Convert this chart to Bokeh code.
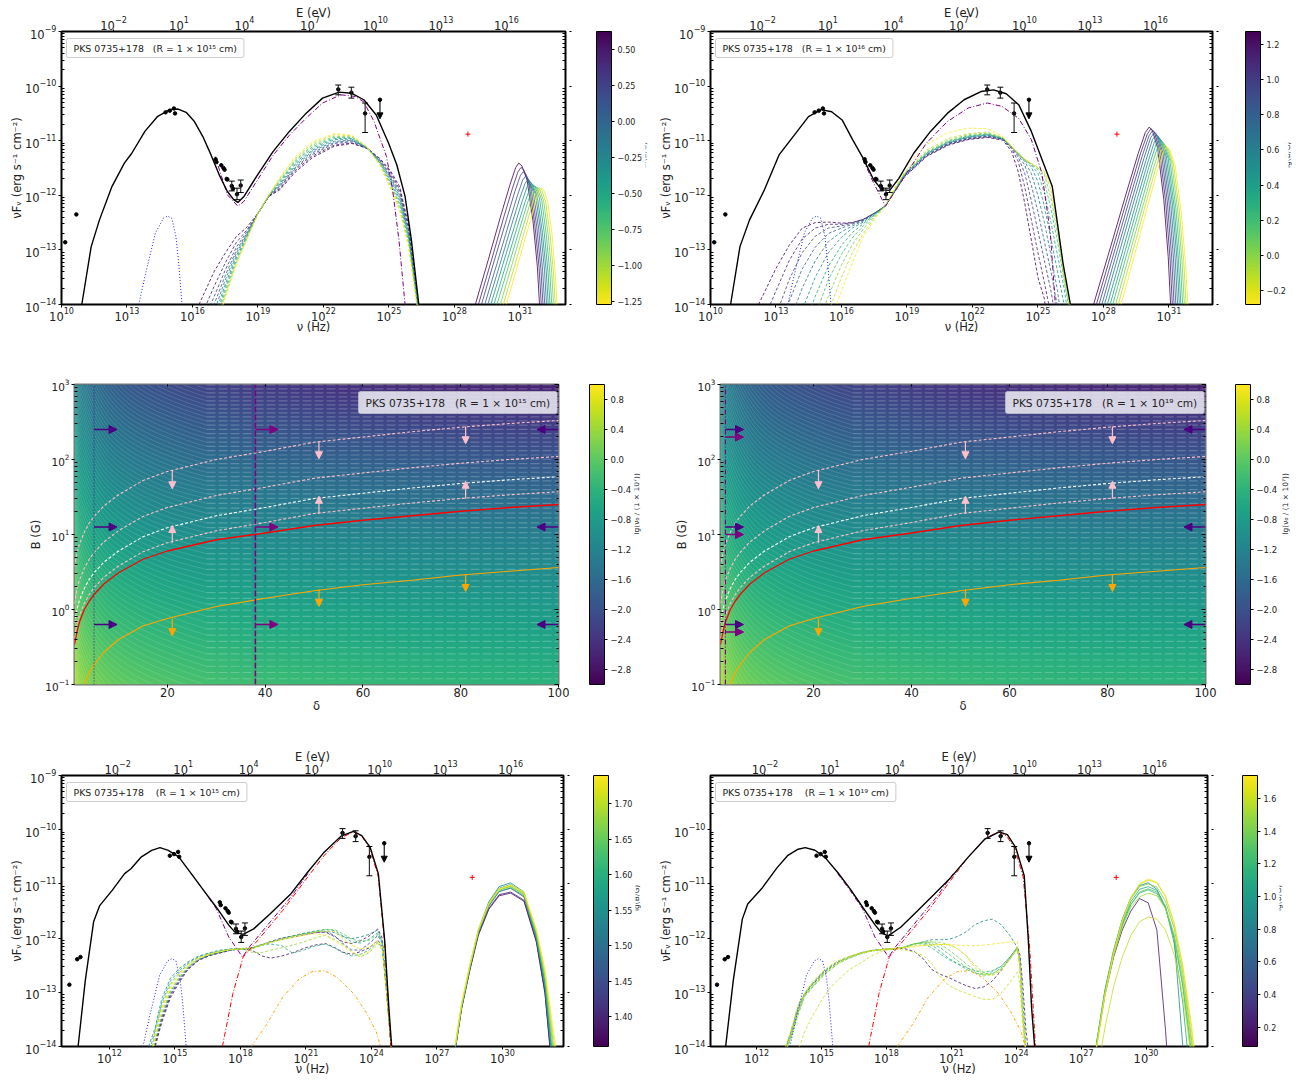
import numpy as np
from math import pi
from bokeh.embed import file_html
from bokeh.resources import INLINE
from bokeh.plotting import figure
from bokeh.layouts import row, column
from bokeh.palettes import Viridis256
from bokeh.models import (ColorBar, LinearColorMapper, FixedTicker, LogAxis, LinearAxis, Label, Arrow,
                          NormalHead, Range1d, LogScale)

# ---------- shared observations (log10 nu, log10 nuFnu) ----------
OBS_NU = [10.17,10.68,14.77,14.96,15.15,15.2,17.06,17.1,17.32,17.42,17.47,17.57,17.6,17.8,17.85,18.04,18.21,22.68,23.28,23.91,24.59]
OBS_F = [-12.86,-12.35,-10.48,-10.45,-10.41,-10.5,-11.34,-11.39,-11.45,-11.5,-11.53,-11.7,-11.71,-11.83,-11.88,-11.98,-11.82,-10.06,-10.12,-10.5,-10.25]
EXTRA_NU = [10.53]
EXTRA_F = [-12.39]
ERR_NU = [17.8,18.04,18.21,22.68,23.28,23.91]
ERR_LO = [-11.92,-12.08,-11.95,-10.16,-10.22,-10.85]
ERR_HI = [-11.74,-11.87,-11.72,-9.98,-10.02,-10.31]
LIMIT_NU = 24.59
LIMIT_FROM = -10.25
LIMIT_TO = -10.6
RED_NU = [28.62]
RED_F = [-10.88]
BLUE_NU = [13.54,13.82,14.3,14.67,14.86,15.05,15.24,15.37,15.52]
BLUE_F = [-14,-13.49,-12.69,-12.42,-12.38,-12.42,-12.75,-13.24,-14]

E_TICKS = [1e-2,1e1,1e4,1e7,1e10,1e13,1e16]
LOG_H = -14.383

# ---------- top-left panel ----------
TL_BLACK_X = [10.93,11.36,11.74,12.31,12.88,13.22,13.82,14.39,14.96,15.34,15.71,16.09,16.47,16.85,17.23,17.6,17.89,18.08,18.36,18.93,19.69,20.44,21.2,21.96,22.72,23.28,23.85,24.42,24.99,25.36,25.74,26.03,26.37]
TL_BLACK_Y = [-14,-12.94,-12.45,-11.84,-11.41,-11.23,-10.83,-10.56,-10.43,-10.42,-10.48,-10.65,-10.92,-11.26,-11.63,-11.93,-12.08,-12.13,-12.02,-11.66,-11.2,-10.83,-10.5,-10.22,-10.11,-10.13,-10.25,-10.53,-11.05,-11.44,-12.02,-12.82,-14]
TL_PURPLE_X = [17.04,17.6,18.08,18.36,18.93,19.69,20.44,21.2,21.96,22.8,23.47,23.85,24.32,24.89,25.17,25.46,25.74]
TL_PURPLE_Y = [-11.29,-11.99,-12.2,-12.11,-11.75,-11.27,-10.9,-10.59,-10.31,-10.16,-10.19,-10.29,-10.65,-11.29,-11.9,-12.82,-14]
TL_SSC_X = [16.3,17.0,17.5,18.0,18.5,19.0,19.5,20,20.7,21.5,22.5,23.3,24,24.6,25.1,25.5,25.9,26.35]
TL_SSC_Y = [
[-14.0,-13.39,-13.06,-12.76,-12.58,-12.33,-12.02,-11.90,-11.58,-11.31,-11.10,-11.05,-11.14,-11.33,-11.57,-11.85,-12.55,-14.0],
[-14.31,-13.66,-13.24,-12.87,-12.63,-12.33,-12.02,-11.88,-11.55,-11.28,-11.08,-11.04,-11.14,-11.34,-11.6,-11.9,-12.59,-14.02],
[-14.53,-13.85,-13.37,-12.96,-12.66,-12.33,-12.02,-11.85,-11.52,-11.25,-11.05,-11.02,-11.14,-11.36,-11.64,-11.94,-12.63,-14.04],
[-14.7,-13.99,-13.47,-13.02,-12.69,-12.33,-12.01,-11.83,-11.5,-11.22,-11.03,-11.0,-11.13,-11.37,-11.67,-11.99,-12.67,-14.06],
[-14.84,-14.12,-13.55,-13.07,-12.71,-12.33,-12.01,-11.81,-11.47,-11.19,-11.01,-10.99,-11.13,-11.38,-11.7,-12.03,-12.71,-14.08],
[-14.97,-14.22,-13.63,-13.12,-12.73,-12.33,-12.01,-11.79,-11.44,-11.17,-10.98,-10.97,-11.13,-11.4,-11.73,-12.08,-12.75,-14.1],
[-15.08,-14.32,-13.69,-13.16,-12.75,-12.33,-12.01,-11.76,-11.41,-11.14,-10.96,-10.96,-11.13,-11.41,-11.77,-12.12,-12.79,-14.12],
[-15.18,-14.41,-13.75,-13.2,-12.76,-12.33,-12.01,-11.74,-11.38,-11.11,-10.94,-10.94,-11.13,-11.42,-11.8,-12.17,-12.83,-14.14],
[-15.26,-14.48,-13.8,-13.23,-12.78,-12.33,-12.0,-11.72,-11.36,-11.08,-10.92,-10.93,-11.12,-11.43,-11.83,-12.21,-12.87,-14.16],
[-15.33,-14.54,-13.84,-13.25,-12.79,-12.33,-12.0,-11.69,-11.33,-11.05,-10.89,-10.91,-11.12,-11.45,-11.87,-12.26,-12.91,-14.18],
[-15.4,-14.6,-13.88,-13.28,-12.8,-12.33,-12.0,-11.67,-11.3,-11.02,-10.87,-10.9,-11.12,-11.46,-11.9,-12.3,-12.95,-14.2],
]
TL_HUMP_X = [
[28.96,29.56,30.15,30.55,30.81,30.95,31.09,31.33,31.6,31.8,31.9],
[29.1,29.69,30.27,30.66,30.91,31.05,31.19,31.42,31.68,31.88,31.98],
[29.24,29.81,30.39,30.77,31.02,31.15,31.29,31.51,31.77,31.96,32.06],
[29.39,29.95,30.51,30.89,31.13,31.26,31.39,31.61,31.86,32.04,32.14],
[29.53,30.08,30.63,31.0,31.24,31.37,31.5,31.71,31.95,32.13,32.22],
[29.67,30.21,30.75,31.11,31.34,31.47,31.59,31.8,32.03,32.21,32.3],
[29.81,30.34,30.87,31.23,31.46,31.58,31.7,31.9,32.12,32.29,32.38],
[29.95,30.47,30.99,31.33,31.56,31.68,31.8,32.0,32.21,32.37,32.46],
[30.1,30.61,31.11,31.45,31.67,31.79,31.9,32.09,32.3,32.46,32.54],
[30.24,30.74,31.23,31.56,31.78,31.89,32.0,32.18,32.39,32.54,32.62],
[30.38,30.87,31.35,31.68,31.89,32.0,32.1,32.28,32.48,32.62,32.7],
]
TL_HUMP_Y = [
[-14,-13.17,-12.34,-11.8,-11.49,-11.41,-11.46,-11.72,-12.47,-13.3,-14],
[-14,-13.2,-12.39,-11.87,-11.57,-11.49,-11.54,-11.79,-12.52,-13.32,-14],
[-14,-13.22,-12.44,-11.93,-11.64,-11.57,-11.62,-11.86,-12.57,-13.34,-14],
[-14,-13.25,-12.5,-12.0,-11.72,-11.65,-11.7,-11.93,-12.61,-13.37,-14],
[-14,-13.27,-12.53,-12.05,-11.78,-11.71,-11.76,-11.98,-12.65,-13.38,-14],
[-14,-13.28,-12.57,-12.1,-11.83,-11.76,-11.8,-12.03,-12.68,-13.4,-14],
[-14,-13.3,-12.59,-12.13,-11.87,-11.8,-11.84,-12.06,-12.7,-13.41,-14],
[-14,-13.31,-12.61,-12.16,-11.9,-11.83,-11.87,-12.09,-12.72,-13.41,-14],
[-14,-13.31,-12.62,-12.17,-11.91,-11.85,-11.89,-12.11,-12.73,-13.42,-14],
[-14,-13.32,-12.63,-12.18,-11.92,-11.86,-11.9,-12.12,-12.74,-13.42,-14],
[-14,-13.32,-12.64,-12.19,-11.93,-11.87,-11.91,-12.13,-12.74,-13.42,-14],
]

# ---------- top-right panel ----------
TR_BLACK_X = [10.92,11.35,11.79,12.47,13.14,13.91,14.49,15.07,15.55,16.03,16.51,16.99,17.48,17.86,18.21,18.63,19.31,20.08,20.85,21.62,22.39,22.97,23.55,24.12,24.7,25.28,25.66,26.15,26.49]
TR_BLACK_Y = [-14,-12.94,-12.45,-11.9,-11.26,-10.86,-10.56,-10.43,-10.47,-10.62,-10.98,-11.32,-11.72,-11.9,-11.91,-11.69,-11.23,-10.83,-10.5,-10.25,-10.1,-10.07,-10.14,-10.34,-10.83,-11.44,-11.84,-13.24,-14]
TR_PURPLE_X = [16.99,17.48,18.02,18.73,19.88,20.85,21.81,22.68,23.35,24.12,24.7,25.18,25.57,25.8]
TR_PURPLE_Y = [-11.35,-11.78,-12.2,-11.75,-11.05,-10.65,-10.4,-10.31,-10.37,-10.59,-10.98,-11.59,-12.69,-14]
TR_SSC_X = [12.2,13.0,13.6,14.2,14.8,15.4,16.0,16.5,17,17.5,18,18.9,19.9,20.9,21.8,22.7,23.4,23.8,24.1,24.4,24.7,25,25.3,25.6,25.9,26.2,26.5]
TR_SSC_LEFT = [
[-14,-13.34,-12.92,-12.6,-12.5,-12.49,-12.51,-12.5,-12.44,-12.33,-12.2],
[-14.5,-13.75,-13.2,-12.8,-12.6,-12.53,-12.53,-12.5,-12.44,-12.33,-12.2],
[-15,-14.2,-13.55,-13.05,-12.75,-12.6,-12.56,-12.51,-12.45,-12.33,-12.2],
[-15.5,-14.65,-13.95,-13.35,-12.95,-12.7,-12.6,-12.53,-12.46,-12.34,-12.2],
[-16,-15.1,-14.35,-13.7,-13.2,-12.85,-12.67,-12.56,-12.47,-12.34,-12.2],
[-16.5,-15.6,-14.8,-14.1,-13.5,-13.05,-12.77,-12.6,-12.49,-12.35,-12.2],
[-17,-16,-15.2,-14.5,-13.85,-13.3,-12.92,-12.68,-12.52,-12.36,-12.2],
[-17.5,-16.5,-15.6,-14.85,-14.2,-13.55,-13.08,-12.78,-12.56,-12.37,-12.2],
[-18,-17,-16.1,-15.2,-14.5,-13.85,-13.28,-12.9,-12.62,-12.39,-12.2],
[-18.5,-17.5,-16.5,-15.6,-14.8,-14.15,-13.5,-13.05,-12.7,-12.42,-12.2],
[-19,-18,-17,-16,-15.2,-14.45,-13.75,-13.24,-12.76,-12.45,-12.2],
]
TR_SSC_MID = [
[-11.66,-11.29,-11.08,-10.98,-10.94,-10.99],
[-11.65,-11.28,-11.07,-10.97,-10.93,-10.98],
[-11.64,-11.27,-11.06,-10.96,-10.92,-10.97],
[-11.63,-11.26,-11.05,-10.95,-10.91,-10.97],
[-11.63,-11.25,-11.04,-10.94,-10.9,-10.96],
[-11.62,-11.24,-11.03,-10.93,-10.89,-10.96],
[-11.61,-11.23,-11.02,-10.92,-10.88,-10.96],
[-11.6,-11.22,-11.01,-10.91,-10.87,-10.95],
[-11.59,-11.2,-10.99,-10.89,-10.86,-10.95],
[-11.57,-11.17,-10.96,-10.87,-10.84,-10.94],
[-11.5,-11.07,-10.85,-10.77,-10.78,-10.92],
]
TR_SSC_RIGHT = [
[-11.2,-11.57,-12.15,-12.82,-13.5,-13.9,-15,-16,-17,-18],
[-11.15,-11.38,-11.85,-12.45,-13.05,-13.6,-14.2,-15,-16,-17],
[-11.13,-11.3,-11.6,-12.1,-12.65,-13.2,-13.75,-14.5,-15.5,-16.5],
[-11.12,-11.26,-11.45,-11.82,-12.3,-12.85,-13.4,-14.05,-15,-16],
[-11.12,-11.25,-11.38,-11.6,-12.0,-12.5,-13.1,-13.75,-14.6,-15.5],
[-11.12,-11.24,-11.36,-11.48,-11.75,-12.2,-12.8,-13.4,-14,-15],
[-11.12,-11.24,-11.35,-11.44,-11.6,-11.95,-12.5,-13.1,-13.7,-14.5],
[-11.12,-11.24,-11.35,-11.43,-11.53,-11.75,-12.25,-12.85,-13.55,-14.25],
[-11.12,-11.24,-11.35,-11.43,-11.5,-11.62,-12.05,-12.7,-13.5,-14.15],
[-11.12,-11.24,-11.35,-11.42,-11.5,-11.58,-11.9,-12.6,-13.47,-14.08],
[-11.1,-11.22,-11.33,-11.41,-11.49,-11.57,-11.8,-12.55,-13.45,-14.05],
]
TR_HUMP_X = [
[27.55,28.32,29.08,29.59,29.92,30.1,30.25,30.49,30.77,30.97,31.08],
[27.68,28.43,29.18,29.68,30.01,30.18,30.33,30.57,30.85,31.05,31.16],
[27.8,28.54,29.28,29.77,30.09,30.26,30.41,30.65,30.93,31.13,31.24],
[27.93,28.65,29.38,29.86,30.17,30.34,30.49,30.73,31.01,31.21,31.32],
[28.05,28.76,29.47,29.95,30.25,30.42,30.57,30.81,31.09,31.29,31.4],
[28.18,28.88,29.57,30.04,30.34,30.5,30.65,30.89,31.17,31.37,31.48],
[28.31,28.99,29.67,30.13,30.42,30.58,30.73,30.97,31.24,31.44,31.55],
[28.43,29.1,29.77,30.21,30.5,30.66,30.81,31.05,31.32,31.52,31.63],
[28.56,29.21,29.87,30.3,30.59,30.74,30.89,31.13,31.4,31.6,31.71],
[28.68,29.32,29.96,30.39,30.67,30.82,30.97,31.21,31.48,31.68,31.79],
[28.81,29.44,30.06,30.48,30.75,30.9,31.05,31.29,31.56,31.76,31.87],
]
TR_HUMP_Y = [
[-14,-12.96,-11.92,-11.24,-10.85,-10.75,-10.82,-11.14,-12.08,-13.12,-14],
[-14,-12.97,-11.94,-11.26,-10.88,-10.78,-10.84,-11.17,-12.1,-13.13,-14],
[-14,-12.98,-11.96,-11.29,-10.91,-10.81,-10.87,-11.19,-12.12,-13.14,-14],
[-14,-12.99,-11.98,-11.32,-10.94,-10.85,-10.91,-11.23,-12.14,-13.15,-14],
[-14,-13.0,-12.01,-11.36,-10.98,-10.89,-10.95,-11.26,-12.17,-13.16,-14],
[-14,-13.02,-12.04,-11.39,-11.02,-10.93,-10.99,-11.3,-12.19,-13.17,-14],
[-14,-13.03,-12.06,-11.42,-11.06,-10.97,-11.03,-11.33,-12.21,-13.18,-14],
[-14,-13.04,-12.09,-11.46,-11.1,-11.01,-11.07,-11.37,-12.24,-13.19,-14],
[-14,-13.06,-12.11,-11.49,-11.14,-11.05,-11.11,-11.4,-12.26,-13.2,-14],
[-14,-13.07,-12.13,-11.52,-11.17,-11.08,-11.14,-11.43,-12.28,-13.21,-14],
[-14,-13.08,-12.15,-11.54,-11.2,-11.11,-11.17,-11.46,-12.29,-13.22,-14],
]

# ---------- bottom panels ----------
BL_BLACK_X = [10.57,10.9,11.28,11.56,12.13,12.7,12.99,13.47,13.94,14.32,14.7,15.18,15.75,16.32,16.9,17.47,17.75,18.13,18.61,19.37,20.32,21.09,21.85,22.61,23.18,23.56,23.94,24.32,24.61,24.8,24.93]
BL_BLACK_Y = [-14,-12.78,-11.7,-11.4,-11.12,-10.81,-10.72,-10.5,-10.38,-10.33,-10.38,-10.5,-10.81,-11.12,-11.43,-11.76,-11.89,-11.93,-11.83,-11.55,-11.18,-10.78,-10.41,-10.12,-10.03,-10.11,-10.32,-10.81,-12.04,-13.27,-14]
BR_BLACK_X = [10.57,10.92,11.34,11.59,12.27,12.95,13.43,13.92,14.25,14.7,15.18,15.75,16.34,16.92,17.5,17.79,18.08,18.66,19.43,20.21,20.98,21.75,22.53,23.21,23.59,23.98,24.37,24.56,24.71,24.85]
BR_BLACK_Y = [-14,-12.79,-11.65,-11.37,-11.07,-10.7,-10.48,-10.36,-10.33,-10.38,-10.52,-10.79,-11.1,-11.44,-11.77,-11.91,-11.96,-11.8,-11.5,-11.19,-10.88,-10.52,-10.18,-10.04,-10.09,-10.33,-10.85,-12.05,-13.28,-14]
BOT_PURPLE_X = [15.75,16.32,16.9,17.47,18.1,18.42,19.37,20.32,21.09]
BOT_PURPLE_Y = [-10.81,-11.12,-11.46,-11.98,-12.35,-12.16,-11.7,-11.24,-10.81]
BOT_RED_X = [17.18,17.66,18.13,18.8,19.94,21.09,21.85,22.61,23.18,23.56,23.94,24.32,24.61,24.89]
BOT_RED_Y = [-14,-13.02,-12.35,-12.04,-11.49,-10.87,-10.47,-10.15,-10.04,-10.12,-10.35,-10.87,-12.1,-14]
BOT_ORANGE_X = [18.51,19.18,19.94,20.7,21.28,21.85,22.42,23.18,23.75,24.23,24.42]
BOT_ORANGE_Y = [-14,-13.61,-13.09,-12.75,-12.62,-12.6,-12.72,-13.02,-13.36,-13.73,-14]

BL_COLOR_VALUES = [1.38,1.39,1.45,1.55,1.58,1.60,1.65,1.68,1.72,1.74]
BL_SSC_X = [13.8,14.1,14.4,14.8,15.2,15.6,16.1,16.6,17.1,17.6,18,18.5,19,19.4,19.9,20.4,20.9,21.4,21.9,22.3,22.7,23.1,23.5,23.9,24.3,24.5,24.7,24.95]
BL_SSC_LEFT = [
[-14.81,-13.97,-13.52,-13.06,-12.79,-12.57,-12.4,-12.32,-12.27,-12.22,-12.2],
[-14.9,-14,-13.56,-13.1,-12.82,-12.58,-12.41,-12.32,-12.27,-12.22,-12.2],
[-14.72,-13.93,-13.47,-13.03,-12.77,-12.55,-12.39,-12.31,-12.26,-12.22,-12.2],
[-14,-13.65,-13.12,-12.74,-12.56,-12.44,-12.33,-12.27,-12.22,-12.2,-12.2],
[-14.13,-13.7,-13.19,-12.79,-12.6,-12.46,-12.34,-12.28,-12.23,-12.2,-12.2],
[-14.63,-13.9,-13.43,-12.99,-12.74,-12.54,-12.39,-12.31,-12.26,-12.21,-12.2],
[-14.27,-13.76,-13.25,-12.85,-12.64,-12.48,-12.35,-12.28,-12.24,-12.21,-12.2],
[-14.54,-13.86,-13.38,-12.96,-12.72,-12.52,-12.38,-12.3,-12.25,-12.21,-12.2],
[-14.36,-13.79,-13.3,-12.88,-12.66,-12.5,-12.36,-12.29,-12.24,-12.21,-12.2],
[-14.45,-13.83,-13.34,-12.92,-12.69,-12.51,-12.37,-12.3,-12.25,-12.21,-12.2],
]
BL_SSC_RIGHT = [
[-12.22,-12.33,-12.37,-12.33,-12.27,-12.19,-12.13,-12.1,-12.17,-12.26,-12.3,-12.25,-12.18,-12.04,-12.15,-13,-14.2],
[-12.18,-12.12,-12.06,-12.0,-11.96,-11.93,-11.9,-11.89,-11.97,-12.07,-12.1,-12.05,-11.96,-11.83,-12.0,-12.95,-14.2],
[-12.19,-12.13,-12.07,-12.02,-11.98,-11.94,-11.9,-11.88,-11.95,-12.1,-12.22,-12.22,-12.1,-11.95,-12.1,-12.98,-14.2],
[-12.18,-12.12,-12.07,-12.01,-11.96,-11.92,-11.88,-11.87,-11.9,-11.97,-12.01,-11.98,-11.93,-11.85,-12.08,-13,-14.2],
[-12.19,-12.12,-12.07,-12.01,-11.96,-11.91,-11.87,-11.84,-11.86,-11.96,-12.07,-12.09,-12.02,-11.9,-12.07,-13,-14.2],
[-12.19,-12.12,-12.11,-12.14,-12.28,-12.22,-12.15,-12.11,-12.18,-12.27,-12.33,-12.3,-12.22,-12.07,-12.2,-13,-14.2],
[-12.2,-12.13,-12.08,-12.02,-11.97,-11.93,-11.88,-11.84,-11.84,-11.92,-12.02,-12.06,-12.04,-11.93,-12.1,-13,-14.2],
[-12.26,-12.27,-12.22,-12.18,-12.13,-12.07,-12.0,-11.95,-12.02,-12.12,-12.26,-12.35,-12.27,-12.1,-12.22,-13,-14.2],
[-12.18,-12.12,-12.07,-12.02,-11.97,-11.93,-11.89,-11.87,-11.88,-12.0,-12.13,-12.2,-12.17,-12.05,-12.15,-13.0,-14.2],
[-12.2,-12.13,-12.08,-12.03,-11.99,-11.95,-11.92,-11.95,-12.05,-12.15,-12.25,-12.33,-12.25,-12.08,-12.2,-13,-14.2],
]
BL_HUMP_X = [27.85,28.13,28.51,28.9,29.38,29.85,30.38,30.99,31.56,31.95,32.23,32.5]
BL_HUMP_Y = [
[-14.04,-13.31,-12.6,-11.95,-11.47,-11.22,-11.17,-11.32,-12.08,-13.02,-14.25,-15.5],
[-14.03,-13.3,-12.58,-11.93,-11.45,-11.2,-11.15,-11.3,-12.06,-13,-14.2,-15.5],
[-14.03,-13.29,-12.56,-11.9,-11.41,-11.14,-11.08,-11.24,-12.02,-12.95,-14.15,-15.4],
[-14,-13.27,-12.53,-11.85,-11.33,-11.05,-10.98,-11.15,-11.96,-12.84,-14,-15.2],
[-14.01,-13.27,-12.54,-11.87,-11.36,-11.08,-11.01,-11.17,-11.97,-12.86,-14,-15.2],
[-14.02,-13.28,-12.55,-11.9,-11.4,-11.14,-11.07,-11.22,-11.98,-12.8,-13.85,-15],
[-14,-13.26,-12.53,-11.87,-11.38,-11.11,-11.05,-11.2,-11.93,-12.72,-13.7,-14.7],
[-13.98,-13.24,-12.52,-11.87,-11.38,-11.11,-11.04,-11.19,-11.9,-12.68,-13.6,-14.5],
[-13.96,-13.22,-12.5,-11.85,-11.37,-11.1,-11.03,-11.17,-11.86,-12.62,-13.5,-14.3],
[-13.95,-13.21,-12.49,-11.84,-11.36,-11.09,-11.02,-11.15,-11.84,-12.58,-13.4,-14.15],
]

BR_COLOR_VALUES = [0.2,0.9,1.12,1.22,1.3,1.4,1.5,1.72,1.66,1.6]
BR_SSC_X = [13.33,13.6,13.9,14.2,14.5,15,15.4,15.8,16.3,16.8,17.3,17.8,18.3,18.8,19.3,19.7,20.1,20.5,20.9,21.3,21.7,22.1,22.5,22.9,23.3,23.7,24.05,24.17,24.3,24.45,24.6]
BR_SSC_LEFT = [
[-14.08,-13.77,-13.35,-13.06,-12.9,-12.68,-12.55,-12.44,-12.35,-12.28,-12.23,-12.21,-12.2],
[-14.03,-13.71,-13.28,-13.03,-12.87,-12.65,-12.52,-12.42,-12.34,-12.27,-12.23,-12.21,-12.2],
[-14.06,-13.75,-13.32,-13.05,-12.89,-12.67,-12.54,-12.43,-12.35,-12.28,-12.23,-12.21,-12.2],
[-14.1,-13.8,-13.39,-13.07,-12.93,-12.71,-12.57,-12.45,-12.36,-12.28,-12.24,-12.21,-12.2],
[-14.13,-13.83,-13.44,-13.09,-12.95,-12.73,-12.59,-12.46,-12.37,-12.29,-12.24,-12.21,-12.2],
[-14.05,-13.73,-13.3,-13.04,-12.88,-12.66,-12.53,-12.43,-12.34,-12.28,-12.23,-12.21,-12.2],
[-14.12,-13.82,-13.41,-13.08,-12.94,-12.72,-12.58,-12.46,-12.36,-12.29,-12.24,-12.21,-12.2],
[-14,-13.68,-13.23,-13.02,-12.85,-12.63,-12.5,-12.41,-12.33,-12.27,-12.23,-12.21,-12.2],
[-14.09,-13.78,-13.37,-13.07,-12.92,-12.7,-12.56,-12.45,-12.35,-12.28,-12.24,-12.21,-12.2],
[-15,-14.7,-14.1,-13.75,-13.5,-13.15,-12.92,-12.76,-12.58,-12.46,-12.33,-12.24,-12.2],
]
BR_SSC_RIGHT = [
[-12.19,-12.25,-12.38,-12.58,-12.67,-12.73,-12.81,-12.88,-12.93,-12.9,-12.79,-12.6,-12.36,-12.17,-12.3,-12.85,-13.7,-14.2],
[-12.17,-12.11,-12.07,-12.03,-12.03,-12.02,-11.97,-11.88,-11.75,-11.68,-11.65,-11.75,-11.95,-12.17,-12.36,-13.1,-14.0,-15],
[-12.17,-12.1,-12.09,-12.13,-12.25,-12.38,-12.47,-12.55,-12.6,-12.63,-12.6,-12.52,-12.35,-12.17,-12.5,-13.4,-14.1,-15],
[-12.17,-12.1,-12.11,-12.18,-12.3,-12.4,-12.48,-12.58,-12.65,-12.67,-12.62,-12.52,-12.36,-12.17,-12.5,-13.4,-14.1,-15],
[-12.17,-12.11,-12.07,-12.1,-12.18,-12.3,-12.42,-12.54,-12.63,-12.7,-12.66,-12.55,-12.38,-12.18,-12.5,-13.4,-14.1,-15],
[-12.17,-12.11,-12.08,-12.07,-12.12,-12.22,-12.35,-12.48,-12.6,-12.67,-12.66,-12.57,-12.4,-12.2,-12.5,-13.4,-14.1,-15],
[-12.17,-12.11,-12.08,-12.07,-12.08,-12.12,-12.2,-12.33,-12.5,-12.64,-12.68,-12.6,-12.4,-12.2,-12.5,-13.4,-14.1,-15],
[-12.18,-12.16,-12.14,-12.13,-12.12,-12.12,-12.13,-12.14,-12.14,-12.13,-12.11,-12.09,-12.07,-12.07,-12.6,-13.5,-14.1,-15],
[-12.17,-12.14,-12.13,-12.12,-12.12,-12.12,-12.2,-12.33,-12.55,-12.67,-12.69,-12.58,-12.38,-12.18,-12.5,-13.4,-14.1,-15],
[-12.22,-12.26,-12.32,-12.47,-12.72,-12.88,-12.96,-13.02,-13.08,-13.13,-13.13,-13.02,-12.82,-12.63,-12.85,-13.6,-14.3,-15],
]
BR_HUMP_X = [27.7,28.1,28.5,28.9,29.3,29.7,30.1,30.5,30.9,31.3,31.7,32.1,32.4]
BR_HUMP_Y = [
[-14,-13.05,-12.35,-11.85,-11.5,-11.27,-11.35,-11.85,-13.7,-16,-18,-19,-20],
[-13.95,-12.95,-12.22,-11.65,-11.25,-11.03,-10.98,-11.1,-11.45,-12.0,-14,-16,-18],
[-14,-13,-12.27,-11.72,-11.33,-11.1,-11.05,-11.12,-11.42,-12.1,-13.2,-14.8,-16.5],
[-14,-13.02,-12.3,-11.76,-11.38,-11.17,-11.11,-11.18,-11.45,-12.0,-12.9,-14.2,-15.5],
[-14,-13.02,-12.3,-11.76,-11.38,-11.15,-11.09,-11.15,-11.42,-11.95,-12.85,-14.1,-15.3],
[-14,-12.98,-12.25,-11.68,-11.28,-11.05,-11.0,-11.06,-11.32,-11.82,-12.65,-13.85,-14.9],
[-14.02,-13.05,-12.32,-11.8,-11.43,-11.24,-11.17,-11.22,-11.45,-11.95,-12.75,-13.95,-15],
[-14.05,-13.05,-12.28,-11.68,-11.25,-11.0,-10.91,-10.97,-11.22,-11.72,-12.5,-13.6,-14.6],
[-14.05,-13.05,-12.28,-11.68,-11.26,-11.01,-10.93,-10.98,-11.24,-11.74,-12.55,-13.7,-14.7],
[-14.6,-13.65,-12.9,-12.35,-11.95,-11.7,-11.61,-11.65,-11.85,-12.3,-13.05,-14.2,-15.2],
]

# ---------- middle panels: read colour table and limit curves ----------
Z_DELTA = [1,2,3,5,8,12,20,35,60,100]
Z_LOGB = [-1,-0.5,0,0.5,1,1.5,2,2.5,3]
Z_TABLE = [
[0.52,0.36,0.28,0.18,0.08,0.0,-0.1,-0.22,-0.33,-0.42],
[0.32,0.16,0.08,-0.02,-0.12,-0.2,-0.3,-0.42,-0.52,-0.62],
[0.12,-0.04,-0.12,-0.22,-0.32,-0.4,-0.5,-0.62,-0.72,-0.82],
[-0.08,-0.24,-0.32,-0.42,-0.53,-0.61,-0.72,-0.83,-0.94,-1.05],
[-0.28,-0.44,-0.52,-0.63,-0.75,-0.84,-0.95,-1.07,-1.18,-1.3],
[-0.48,-0.64,-0.72,-0.85,-0.97,-1.07,-1.2,-1.33,-1.46,-1.6],
[-0.68,-0.85,-0.93,-1.07,-1.22,-1.33,-1.47,-1.63,-1.77,-1.92],
[-0.89,-1.06,-1.15,-1.31,-1.47,-1.6,-1.75,-1.93,-2.11,-2.28],
[-1.1,-1.27,-1.38,-1.55,-1.72,-1.87,-2.05,-2.25,-2.45,-2.62],
]
STRIPE_BREAK_DELTA = 28
LIM_DELTA = [1,1.5,2,3,4,5,7,10,15,20,30,40,50,60,70,80,90,100]
LIM_PINK1 = [0.57,0.75,0.87,1.03,1.15,1.24,1.38,1.53,1.72,1.84,2.0,2.11,2.23,2.3,2.37,2.43,2.48,2.52]
LIM_PINK2 = [0.08,0.27,0.39,0.55,0.67,0.76,0.9,1.05,1.24,1.36,1.52,1.63,1.75,1.82,1.89,1.95,2.0,2.04]
LIM_WHITE = [-0.18,0,0.12,0.28,0.4,0.49,0.63,0.78,0.97,1.09,1.25,1.36,1.48,1.55,1.62,1.68,1.73,1.77]
LIM_PINK3 = [-0.38,-0.2,-0.08,0.08,0.2,0.29,0.43,0.58,0.77,0.89,1.05,1.16,1.28,1.35,1.42,1.48,1.53,1.57]
LIM_RED = [-0.47,-0.3,-0.17,0,0.11,0.2,0.34,0.49,0.67,0.78,0.93,1.02,1.12,1.19,1.25,1.31,1.36,1.4]
ORANGE_DELTA = [3,4,5,7,10,15,20,30,40,50,60,70,80,90,100]
LIM_ORANGE = [-1.0,-0.84,-0.74,-0.57,-0.4,-0.22,-0.12,0.04,0.15,0.25,0.33,0.39,0.46,0.51,0.56]
ARROW_DELTA = [21,51,81]
PINK_DOWN = [(1.86,1.61),(2.23,2.01),(2.44,2.21)]
PINK_UP = [(0.89,1.12),(1.28,1.51),(1.48,1.71)]
ORANGE_DOWN = [(-0.12,-0.35),(0.27,0.04),(0.47,0.24)]
H_ARROW_LOGB = [2.4,1.1,-0.2]
H_ARROW2_LOGB = [2.3,1.0,-0.3]

INK = "#222222"
FONT = "DejaVu Sans"
DASH = "3 2"
DOT = "1 2"
DASH_DOT = "5 2 1 2"
NB = "\u00a0"
MINOR_Y = lambda lo, hi: [m*10.0**e for e in range(lo, hi) for m in range(2, 10)]


def make_fig(w, h, left, top, fl, fr, ft, fb, xr, yr, log_x=True):
    return figure(width=w, height=h, x_range=Range1d(*xr), y_range=Range1d(*yr),
                  x_axis_type="log" if log_x else "linear", y_axis_type="log",
                  min_border_left=fl-left, min_border_right=left+w-fr,
                  min_border_top=ft-top, min_border_bottom=top+h-fb,
                  output_backend="svg", toolbar_location=None, x_axis_label=None, y_axis_label=None,
                  background_fill_color="white", border_fill_color="white")


def style_axis(ax, size="11.5px"):
    ax.major_label_text_font = FONT
    ax.major_label_text_font_size = size
    ax.major_label_text_color = INK
    ax.axis_label_text_font = FONT
    ax.axis_label_text_font_size = "11.5px"
    ax.axis_label_text_font_style = "normal"
    ax.axis_label_text_color = INK
    ax.axis_line_color = None
    ax.major_tick_line_color = "black"
    ax.minor_tick_line_color = "black"
    ax.major_tick_out = 3
    ax.major_tick_in = 0
    ax.minor_tick_out = 0
    ax.minor_tick_in = 0
    ax.major_label_standoff = 2
    ax.axis_label_standoff = 2


def hide_labels(ax, ticks):
    ax.major_label_text_font_size = "1px"
    ax.major_label_overrides = {t: "" for t in ticks}
    ax.major_label_standoff = 0
    ax.axis_label_standoff = 0


def colorbar_title(ax, text, frame_right, text_px):
    # the colour bar's rotated title is carried by the right-hand axis, out beyond the bar
    ax.axis_label = text
    ax.axis_label_text_font_size = "7.5px"
    ax.axis_label_standoff = int(text_px - frame_right - ax.major_tick_out - 6)
    if "axis_label_orientation" in ax.properties():
        ax.axis_label_orientation = pi/2


def add_colorbar(p, frame, cb_x, cb_w, low, high, reverse, ticks, labels, font):
    fl, fr, ft, fb = frame
    pal = list(Viridis256[::-1]) if reverse else list(Viridis256)
    mapper = LinearColorMapper(palette=pal, low=low, high=high)
    cb = ColorBar(color_mapper=mapper, location=(cb_x-fl, 0), width=cb_w, height=fb-ft, padding=0, margin=0,
                  ticker=FixedTicker(ticks=ticks), major_label_overrides=dict(zip(ticks, labels)),
                  major_label_text_font=FONT, major_label_text_font_size=font, major_label_text_color=INK,
                  major_tick_in=0, major_tick_out=3, major_tick_line_color="black", minor_tick_line_color=None,
                  bar_line_color="black", bar_line_width=1, label_standoff=3)
    p.add_layout(cb)


def sed_panel(w, h, left, top, frame, xr, families, black, purple, y_top=-9,
              cbar=None, legend=None, bottom_extra=None, xticks=None):
    fl, fr, ft, fb = frame
    low, high, reverse, ticks, labels, cb_x, text, text_px = cbar
    p = make_fig(w, h, left, top, fl, fr, ft, fb, (10**xr[0], 10**xr[1]), (1e-14, 1e-9))
    p.grid.visible = False
    p.outline_line_color = "black"
    p.outline_line_width = 2
    p.extra_x_ranges = {"E": Range1d(10**(xr[0]+LOG_H), 10**(xr[1]+LOG_H))}
    p.extra_x_scales = {"E": LogScale()}

    xax = p.xaxis[0]
    style_axis(xax)
    xax.axis_label = "ν (Hz)"
    xax.ticker = FixedTicker(ticks=xticks)
    xax.major_label_standoff = -1
    xax.axis_label_standoff = -4
    yax = p.yaxis[0]
    style_axis(yax)
    yax.axis_label = "νFᵥ (erg s⁻¹ cm⁻²)"
    yax.axis_label_standoff = -2
    y_major = [10.0**e for e in range(-14, y_top+1)]
    y_minor = MINOR_Y(-14, -9)
    yax.ticker = FixedTicker(ticks=y_major, minor_ticks=y_minor)
    yax.minor_tick_in = 3

    top_ax = LogAxis(x_range_name="E", axis_label="E (eV)", ticker=FixedTicker(ticks=E_TICKS))
    style_axis(top_ax)
    top_ax.major_tick_out = 2
    top_ax.major_label_standoff = 0
    top_ax.axis_label_standoff = -7
    p.add_layout(top_ax, "above")

    right_ticks = [10.0**e for e in range(-14, -8)]
    right_ax = LogAxis(ticker=FixedTicker(ticks=right_ticks, minor_ticks=y_minor))
    style_axis(right_ax)
    hide_labels(right_ax, right_ticks)
    right_ax.major_tick_in = -4
    right_ax.major_tick_out = 6
    right_ax.minor_tick_in = 3
    colorbar_title(right_ax, text, fr, text_px)
    p.add_layout(right_ax, "right")

    for xs, ys, colors, dash in families:
        p.multi_line(xs=[10.0**np.array(x) for x in xs], ys=[10.0**np.array(y) for y in ys],
                     line_color=colors, line_width=0.9, line_dash=dash, line_alpha=0.9)
    p.line(10.0**np.array(BLUE_NU), 10.0**np.array(BLUE_F), line_color="#2222ff", line_width=1, line_dash=DOT)
    p.line(10.0**np.array(purple[0]), 10.0**np.array(purple[1]), line_color="#800080", line_width=1, line_dash=DASH_DOT)
    if bottom_extra:
        p.line(10.0**np.array(BOT_RED_X), 10.0**np.array(BOT_RED_Y), line_color="red", line_width=1, line_dash=DASH_DOT)
        p.line(10.0**np.array(BOT_ORANGE_X), 10.0**np.array(BOT_ORANGE_Y), line_color="orange", line_width=1, line_dash="3 2 1 2")
    p.line(10.0**np.array(black[0]), 10.0**np.array(black[1]), line_color="black", line_width=1.4)

    nus, fs = list(OBS_NU), list(OBS_F)
    if bottom_extra:
        nus += EXTRA_NU
        fs += EXTRA_F
    p.scatter(10.0**np.array(nus), 10.0**np.array(fs), size=3.5, color="black", marker="circle")
    e_x = 10.0**np.array(ERR_NU)
    p.segment(e_x, 10.0**np.array(ERR_LO), e_x, 10.0**np.array(ERR_HI), line_color="#222222", line_width=1.1)
    p.scatter(e_x, 10.0**np.array(ERR_LO), size=6, marker="dash", line_color="black", line_width=1)
    p.scatter(e_x, 10.0**np.array(ERR_HI), size=6, marker="dash", line_color="black", line_width=1)
    p.add_layout(Arrow(end=NormalHead(size=6, fill_color="black", line_color="black"),
                       x_start=10**LIMIT_NU, y_start=10**LIMIT_FROM, x_end=10**LIMIT_NU, y_end=10**LIMIT_TO,
                       line_color="black", line_width=1.1))
    p.scatter(10.0**np.array(RED_NU), 10.0**np.array(RED_F), size=5, marker="cross", line_color="red", line_width=1)

    def x_at(px):
        return 10**(xr[0]+(px-fl)/(fr-fl)*(xr[1]-xr[0]))

    def y_at(py):
        return 10**(-9-(py-ft)/(fb-ft)*5)

    p.add_layout(Label(x=x_at(fl+5), y=y_at(ft+16.5), text=legend, text_align="left", text_baseline="middle",
                       text_font=FONT, text_font_size="9.4px", text_color=INK, padding=(7, 4), border_radius=2,
                       background_fill_color="white", border_line_color="#cccccc", border_line_width=1))
    add_colorbar(p, frame, cb_x, 15, low, high, reverse, ticks, labels, "8px")
    return p


def mid_panel(w, h, left, top, frame, legend, vlines, h_arrows, cb_x, text_px):
    fl, fr, ft, fb = frame
    p = make_fig(w, h, left, top, fl, fr, ft, fb, (1, 100), (0.1, 1000), log_x=False)
    p.grid.visible = False
    p.outline_line_color = "#777777"
    p.outline_line_width = 2

    table = np.array(Z_TABLE)
    ny, nx = 300, 484
    log_b = np.linspace(Z_LOGB[0], Z_LOGB[-1], ny)
    fine_delta = np.linspace(1, 100, nx)
    log_z_delta = np.log10(Z_DELTA)
    by_row = np.array([np.interp(log_b, Z_LOGB, table[:, j]) for j in range(len(Z_DELTA))]).T
    img = np.array([np.interp(np.log10(fine_delta), log_z_delta, by_row[i]) for i in range(ny)])
    mapper = LinearColorMapper(palette=Viridis256, low=-3, high=1)
    p.image(image=[img], x=1, y=0.1, dw=99, dh=999.9, color_mapper=mapper)

    # contourf seams of the original: slanted at small delta, broken horizontal rows further right
    geo = np.geomspace(1, STRIPE_BREAK_DELTA, 90)
    stripe_z = np.array([np.interp(np.log10(geo), log_z_delta, by_row[i]) for i in range(ny)])
    xs, ys, row_x, row_y = [], [], [], []
    for lev in np.arange(-3, 1, 0.0333):
        cross = np.array([np.interp(-lev, -stripe_z[:, j], log_b, left=np.nan, right=np.nan) for j in range(len(geo))])
        ok = ~np.isnan(cross)
        if ok.sum() > 1:
            xs.append(geo[ok])
            ys.append(10.0**cross[ok])
        if ok[-1]:
            row_x.append([STRIPE_BREAK_DELTA, 100])
            row_y.append([10.0**cross[-1], 10.0**cross[-1]])
    p.multi_line(xs=xs, ys=ys, line_color="white", line_alpha=0.16, line_width=0.9)
    p.multi_line(xs=row_x, ys=row_y, line_color="white", line_alpha=0.22, line_width=1.2, line_dash="9 3")

    d = np.array(LIM_DELTA)
    for vals, col in [(LIM_PINK1, "pink"), (LIM_PINK2, "pink"), (LIM_WHITE, "white"), (LIM_PINK3, "pink")]:
        p.line(d, 10.0**np.array(vals), line_color=col, line_width=1.1, line_dash=DASH)
    p.line(d, 10.0**np.array(LIM_RED), line_color="red", line_width=1.3)
    p.line(ORANGE_DELTA, 10.0**np.array(LIM_ORANGE), line_color="orange", line_width=1.2)

    def v_arrow(x, y0, y1, col):
        p.add_layout(Arrow(end=NormalHead(size=7, fill_color=col, line_color=col), x_start=x, y_start=10**y0,
                           x_end=x, y_end=10**y1, line_color=col, line_width=1.2))

    for x, pr in zip(ARROW_DELTA, PINK_DOWN):
        v_arrow(x, pr[0], pr[1], "pink")
    for x, pr in zip(ARROW_DELTA, PINK_UP):
        v_arrow(x, pr[0], pr[1], "pink")
    for x, pr in zip(ARROW_DELTA, ORANGE_DOWN):
        v_arrow(x, pr[0], pr[1], "orange")

    for xv, col, dash, lw in vlines:
        p.line([xv, xv], [0.1, 1000], line_color=col, line_dash=dash, line_width=lw)
    for x0, x1, col, levels in h_arrows:
        for y in levels:
            p.add_layout(Arrow(end=NormalHead(size=8, fill_color=col, line_color=col), x_start=x0, y_start=10**y,
                               x_end=x1, y_end=10**y, line_color=col, line_width=1.3))

    xax = p.xaxis[0]
    style_axis(xax)
    xax.axis_label = "δ"
    xax.ticker = FixedTicker(ticks=[20, 40, 60, 80, 100])
    xax.major_label_standoff = 0
    xax.axis_label_standoff = -1
    yax = p.yaxis[0]
    style_axis(yax, "10.5px")
    yax.axis_label = "B (G)"
    yax.axis_label_standoff = -1
    y_minor = MINOR_Y(-1, 3)
    y_major = [0.1, 1.0, 10.0, 100.0, 1000.0]
    yax.ticker = FixedTicker(ticks=y_major, minor_ticks=y_minor)
    yax.minor_tick_in = 3

    top_ticks = [20, 40, 60, 80, 100]
    top_ax = LinearAxis(ticker=FixedTicker(ticks=top_ticks))
    style_axis(top_ax)
    hide_labels(top_ax, top_ticks)
    top_ax.major_tick_in = 2
    top_ax.major_tick_out = 0
    p.add_layout(top_ax, "above")
    right_ax = LogAxis(ticker=FixedTicker(ticks=y_major, minor_ticks=y_minor))
    style_axis(right_ax)
    hide_labels(right_ax, y_major)
    right_ax.major_tick_in = 4
    right_ax.major_tick_out = 0
    right_ax.minor_tick_in = 2
    colorbar_title(right_ax, "lg(ν₀ / (1 × 10⁷))", fr, text_px)
    p.add_layout(right_ax, "right")

    def x_at(px):
        return 1+(px-fl)/(fr-fl)*99

    def y_at(py):
        return 10**(3-(py-ft)/(fb-ft)*4)

    p.add_layout(Label(x=x_at(fr-200), y=y_at(ft+18), text=legend, text_align="left", text_baseline="middle",
                       text_font=FONT, text_font_size="10.6px", text_color=INK, padding=(7, 5), border_radius=2,
                       background_fill_color="#eeeef6", background_fill_alpha=0.85,
                       border_line_color="#cccccc", border_line_alpha=0.6))
    ticks = [-2.8, -2.4, -2.0, -1.6, -1.2, -0.8, -0.4, 0.0, 0.4, 0.8]
    labels = ["−2.8", "−2.4", "−2.0", "−1.6", "−1.2", "−0.8", "−0.4", "0.0", "0.4", "0.8"]
    add_colorbar(p, frame, cb_x, 15, -3, 1, False, ticks, labels, "8.5px")
    return p


def cols(n):
    return [Viridis256[int(round(255*i/(n-1)))] for i in range(n)]


def value_cols(values, low, high):
    return [Viridis256[int(round(255*(v-low)/(high-low)))] for v in values]


def legend_text(exp, gap):
    return "PKS 0735+178" + NB*gap + "(R = 1 × 10" + exp + " cm)"


TOP_XT = [10.0**e for e in range(10, 32, 3)]
BOT_XT = [10.0**e for e in range(12, 31, 3)]

tl_colors, tr_colors = cols(11), cols(11)
bl_colors = value_cols(BL_COLOR_VALUES, 1.358, 1.74)
br_colors = value_cols(BR_COLOR_VALUES, 0.082, 1.74)

tl = sed_panel(655, 345, 0, 0, (61, 565, 31, 304), (10, 33.09),
               [([TL_SSC_X]*11, TL_SSC_Y, tl_colors, DASH), (TL_HUMP_X, TL_HUMP_Y, tl_colors, "solid")],
               (TL_BLACK_X, TL_BLACK_Y), (TL_PURPLE_X, TL_PURPLE_Y),
               cbar=(-1.27, 0.625, True, [-1.25, -1.0, -0.75, -0.5, -0.25, 0.0, 0.25, 0.5],
                     ["−1.25", "−1.00", "−0.75", "−0.50", "−0.25", "0.00", "0.25", "0.50"], 596, "ln(B/G)", 649),
               legend=legend_text("¹⁵", 3), xticks=TOP_XT)
tr = sed_panel(648, 345, 655, 0, (707, 1212, 31, 304), (10, 33.0),
               [([TR_SSC_X]*11, [a+b+c for a, b, c in zip(TR_SSC_LEFT, TR_SSC_MID, TR_SSC_RIGHT)], tr_colors, DASH),
                (TR_HUMP_X, TR_HUMP_Y, tr_colors, "solid")],
               (TR_BLACK_X, TR_BLACK_Y), (TR_PURPLE_X, TR_PURPLE_Y),
               cbar=(-0.28, 1.274, True, [-0.2, 0.0, 0.2, 0.4, 0.6, 0.8, 1.0, 1.2],
                     ["−0.2", "0.0", "0.2", "0.4", "0.6", "0.8", "1.0", "1.2"], 1242, "lg(B/G)", 1293),
               legend=legend_text("¹⁶", 3), xticks=TOP_XT)

ml = mid_panel(655, 380, 0, 345, (74, 558, 384, 684), legend_text("¹⁵", 3),
               [(5, "#3b0f8f", DOT, 1), (38, "#800080", "6 2", 1.6)],
               [(5, 9.7, "#4b0082", H_ARROW_LOGB), (38, 42.6, "#800080", H_ARROW_LOGB),
                (100, 95.6, "#4b0082", H_ARROW_LOGB)], 589, 642)
mr = mid_panel(648, 380, 655, 345, (720, 1205, 384, 684), legend_text("¹⁹", 3),
               [(2, "#800080", DASH_DOT, 1.2)],
               [(2, 5.7, "#4b0082", H_ARROW_LOGB), (2, 5.7, "#800080", H_ARROW2_LOGB),
                (100, 95.6, "#4b0082", H_ARROW_LOGB)], 1235, 1291)

bl = sed_panel(655, 359, 0, 725, (61, 563, 775, 1046), (9.81, 32.8),
               [([BL_SSC_X]*10, [a+b for a, b in zip(BL_SSC_LEFT, BL_SSC_RIGHT)], bl_colors, DASH),
                ([BL_HUMP_X]*10, BL_HUMP_Y, bl_colors, "solid")],
               (BL_BLACK_X, BL_BLACK_Y), (BOT_PURPLE_X, BOT_PURPLE_Y),
               cbar=(1.358, 1.74, False, [1.40, 1.45, 1.50, 1.55, 1.60, 1.65, 1.70],
                     ["1.40", "1.45", "1.50", "1.55", "1.60", "1.65", "1.70"], 593, "lg(B/G)", 642),
               legend=legend_text("¹⁵", 4), bottom_extra=True, xticks=BOT_XT)
br = sed_panel(648, 359, 655, 725, (707, 1207, 775, 1046), (9.87, 32.84),
               [([BR_SSC_X]*10, [a+b for a, b in zip(BR_SSC_LEFT, BR_SSC_RIGHT)], br_colors, DASH),
                ([BR_HUMP_X]*10, BR_HUMP_Y, br_colors, "solid")],
               (BR_BLACK_X, BR_BLACK_Y), (BOT_PURPLE_X, BOT_PURPLE_Y), y_top=-10,
               cbar=(0.082, 1.74, False, [0.2, 0.4, 0.6, 0.8, 1.0, 1.2, 1.4, 1.6],
                     ["0.2", "0.4", "0.6", "0.8", "1.0", "1.2", "1.4", "1.6"], 1239, "lg(B/G)", 1284),
               legend=legend_text("¹⁹", 4), bottom_extra=True, xticks=BOT_XT)

page = column(row(tl, tr, spacing=0), row(ml, mr, spacing=0), row(bl, br, spacing=0), spacing=0)
open("out.html", "w").write(file_html(page, INLINE))
